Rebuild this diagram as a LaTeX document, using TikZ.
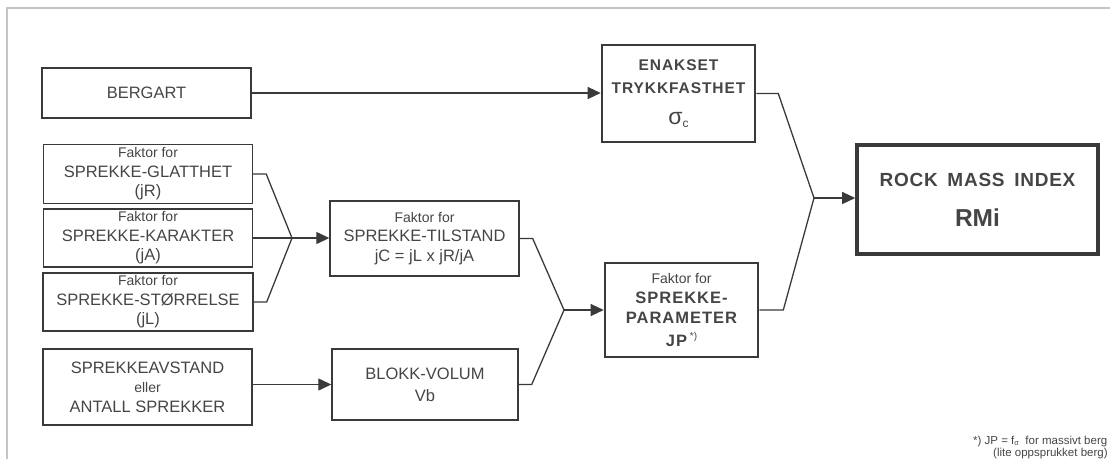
\documentclass[tikz,border=0pt]{standalone}
\usepackage{fontspec}
\setmainfont{Liberation Sans}
\newfontfamily\spacedfont[LetterSpace=6]{Liberation Sans}
\newfontfamily\widefont[LetterSpace=4,WordSpace=1.6]{Liberation Sans}
\usetikzlibrary{arrows.meta,calc}
\definecolor{ink}{HTML}{3A3A3A}
\definecolor{txt}{HTML}{454545}
\definecolor{framegray}{HTML}{C4C4C4}
\newcommand{\faktorline}{{\normalfont\fontsize{14}{16}\selectfont Faktor for}}

\begin{document}
\begin{tikzpicture}[x=1pt,y=-1pt,
  box/.style={draw=ink, line width=1.4pt, rectangle, inner sep=0pt, align=center,
              text=txt, font=\fontsize{16.5}{19.5}\selectfont},
  keybox/.style={box, line width=2.6pt},
  mainbox/.style={box, line width=3.6pt},
  link/.style={draw=ink, line width=1.3pt},
  arr/.style={link, -{Triangle[length=13pt,width=12pt]}}
]
\useasboundingbox (0,0) rectangle (1110,459);
% page frame
\draw[framegray, line width=1.2pt] (7,459) -- (7,8) -- (1110,8);

% input boxes
\node[box, minimum width=209pt, minimum height=50pt] (berg) at (146.5,93) {BERGART};
\node[box, minimum width=209pt, minimum height=59pt] (glatt) at (148,174) {\faktorline\\SPREKKE-GLATTHET\\(jR)};
\node[box, minimum width=209pt, minimum height=58pt] (kar) at (148,238) {\faktorline\\SPREKKE-KARAKTER\\(jA)};
\node[box, minimum width=210pt, minimum height=58pt] (stor) at (148,302) {\faktorline\\SPREKKE-STØRRELSE\\(jL)};
\node[box, minimum width=209pt, minimum height=76pt] (avst) at (147.5,387)
  {SPREKKEAVSTAND\\{\fontsize{14}{16}\selectfont eller}\\ANTALL SPREKKER};

% intermediate boxes
\node[box, minimum width=189pt, minimum height=75pt] (tilst) at (424.5,238.5)
  {\faktorline\\SPREKKE-TILSTAND\\jC = jL x jR/jA};
\node[box, minimum width=186pt, minimum height=71pt] (blokk) at (425,384.5)
  {BLOKK-VOLUM\\[2.5pt]Vb};

% key parameter boxes
\node[keybox, minimum width=153pt, minimum height=97pt,
      font=\spacedfont\bfseries\fontsize{15.5}{23}\selectfont] (enak) at (678.5,93.5)
  {ENAKSET\\TRYKKFASTHET\\[8pt]{\normalfont\fontsize{23}{23}\selectfont σ}\raisebox{-3pt}{\normalfont\fontsize{12}{12}\selectfont c}};
\node[keybox, minimum width=153pt, minimum height=94pt,
      font=\spacedfont\bfseries\fontsize{16.5}{20}\selectfont] (jp) at (681.5,310)
  {\faktorline\\SPREKKE-\\PARAMETER\\[3pt]JP\,\raisebox{7pt}{\normalfont\fontsize{10}{10}\selectfont *)}};

% result box
\node[mainbox, minimum width=241pt, minimum height=109pt,
      font=\widefont\bfseries\fontsize{19}{40}\selectfont] (rmi) at (977.5,199.5)
  {ROCK MASS INDEX\\{\normalfont\bfseries\fontsize{24.5}{40}\selectfont RMi}};

% junction points
\coordinate (j1) at (292,238);
\coordinate (j2) at (564,310);
\coordinate (j3) at (814,198);

% connectors
\draw[arr] (berg.east) -- (berg.east -| enak.west);
\draw[link] (glatt.east) -- ++(13,0) -- (j1);
\draw[link] (stor.east) -- ++(13,0) -- (j1);
\draw[arr] (kar.east) -- (j1) -- (j1 -| tilst.west);
\draw[arr] (blokk.west -| avst.east) -- (blokk.west);
\draw[link] (tilst.east) -- ++(13,0) -- (j2);
\draw[link] (blokk.east) -- ++(13,0) -- (j2);
\draw[arr] (j2) -- (j2 -| jp.west);
\draw[link] (enak.east) -- ++(22,0) -- (j3);
\draw[link] (jp.east) -- ++(24,0) -- (j3);
\draw[arr] (j3) -- (j3 -| rmi.west);

% footnote
\node[anchor=base west, inner sep=0pt, text=txt, font=\fontsize{11.5}{13}\selectfont] (note1) at (973,444)
  {*) JP = f\raisebox{-1.5pt}{\fontsize{7.5}{8}\selectfont σ}\ \ for massivt berg};
\node[anchor=base west, inner sep=0pt, text=txt, font=\fontsize{11.5}{13}\selectfont] (note2) at (993,456)
  {(lite oppsprukket berg)};
\end{tikzpicture}
\end{document}
